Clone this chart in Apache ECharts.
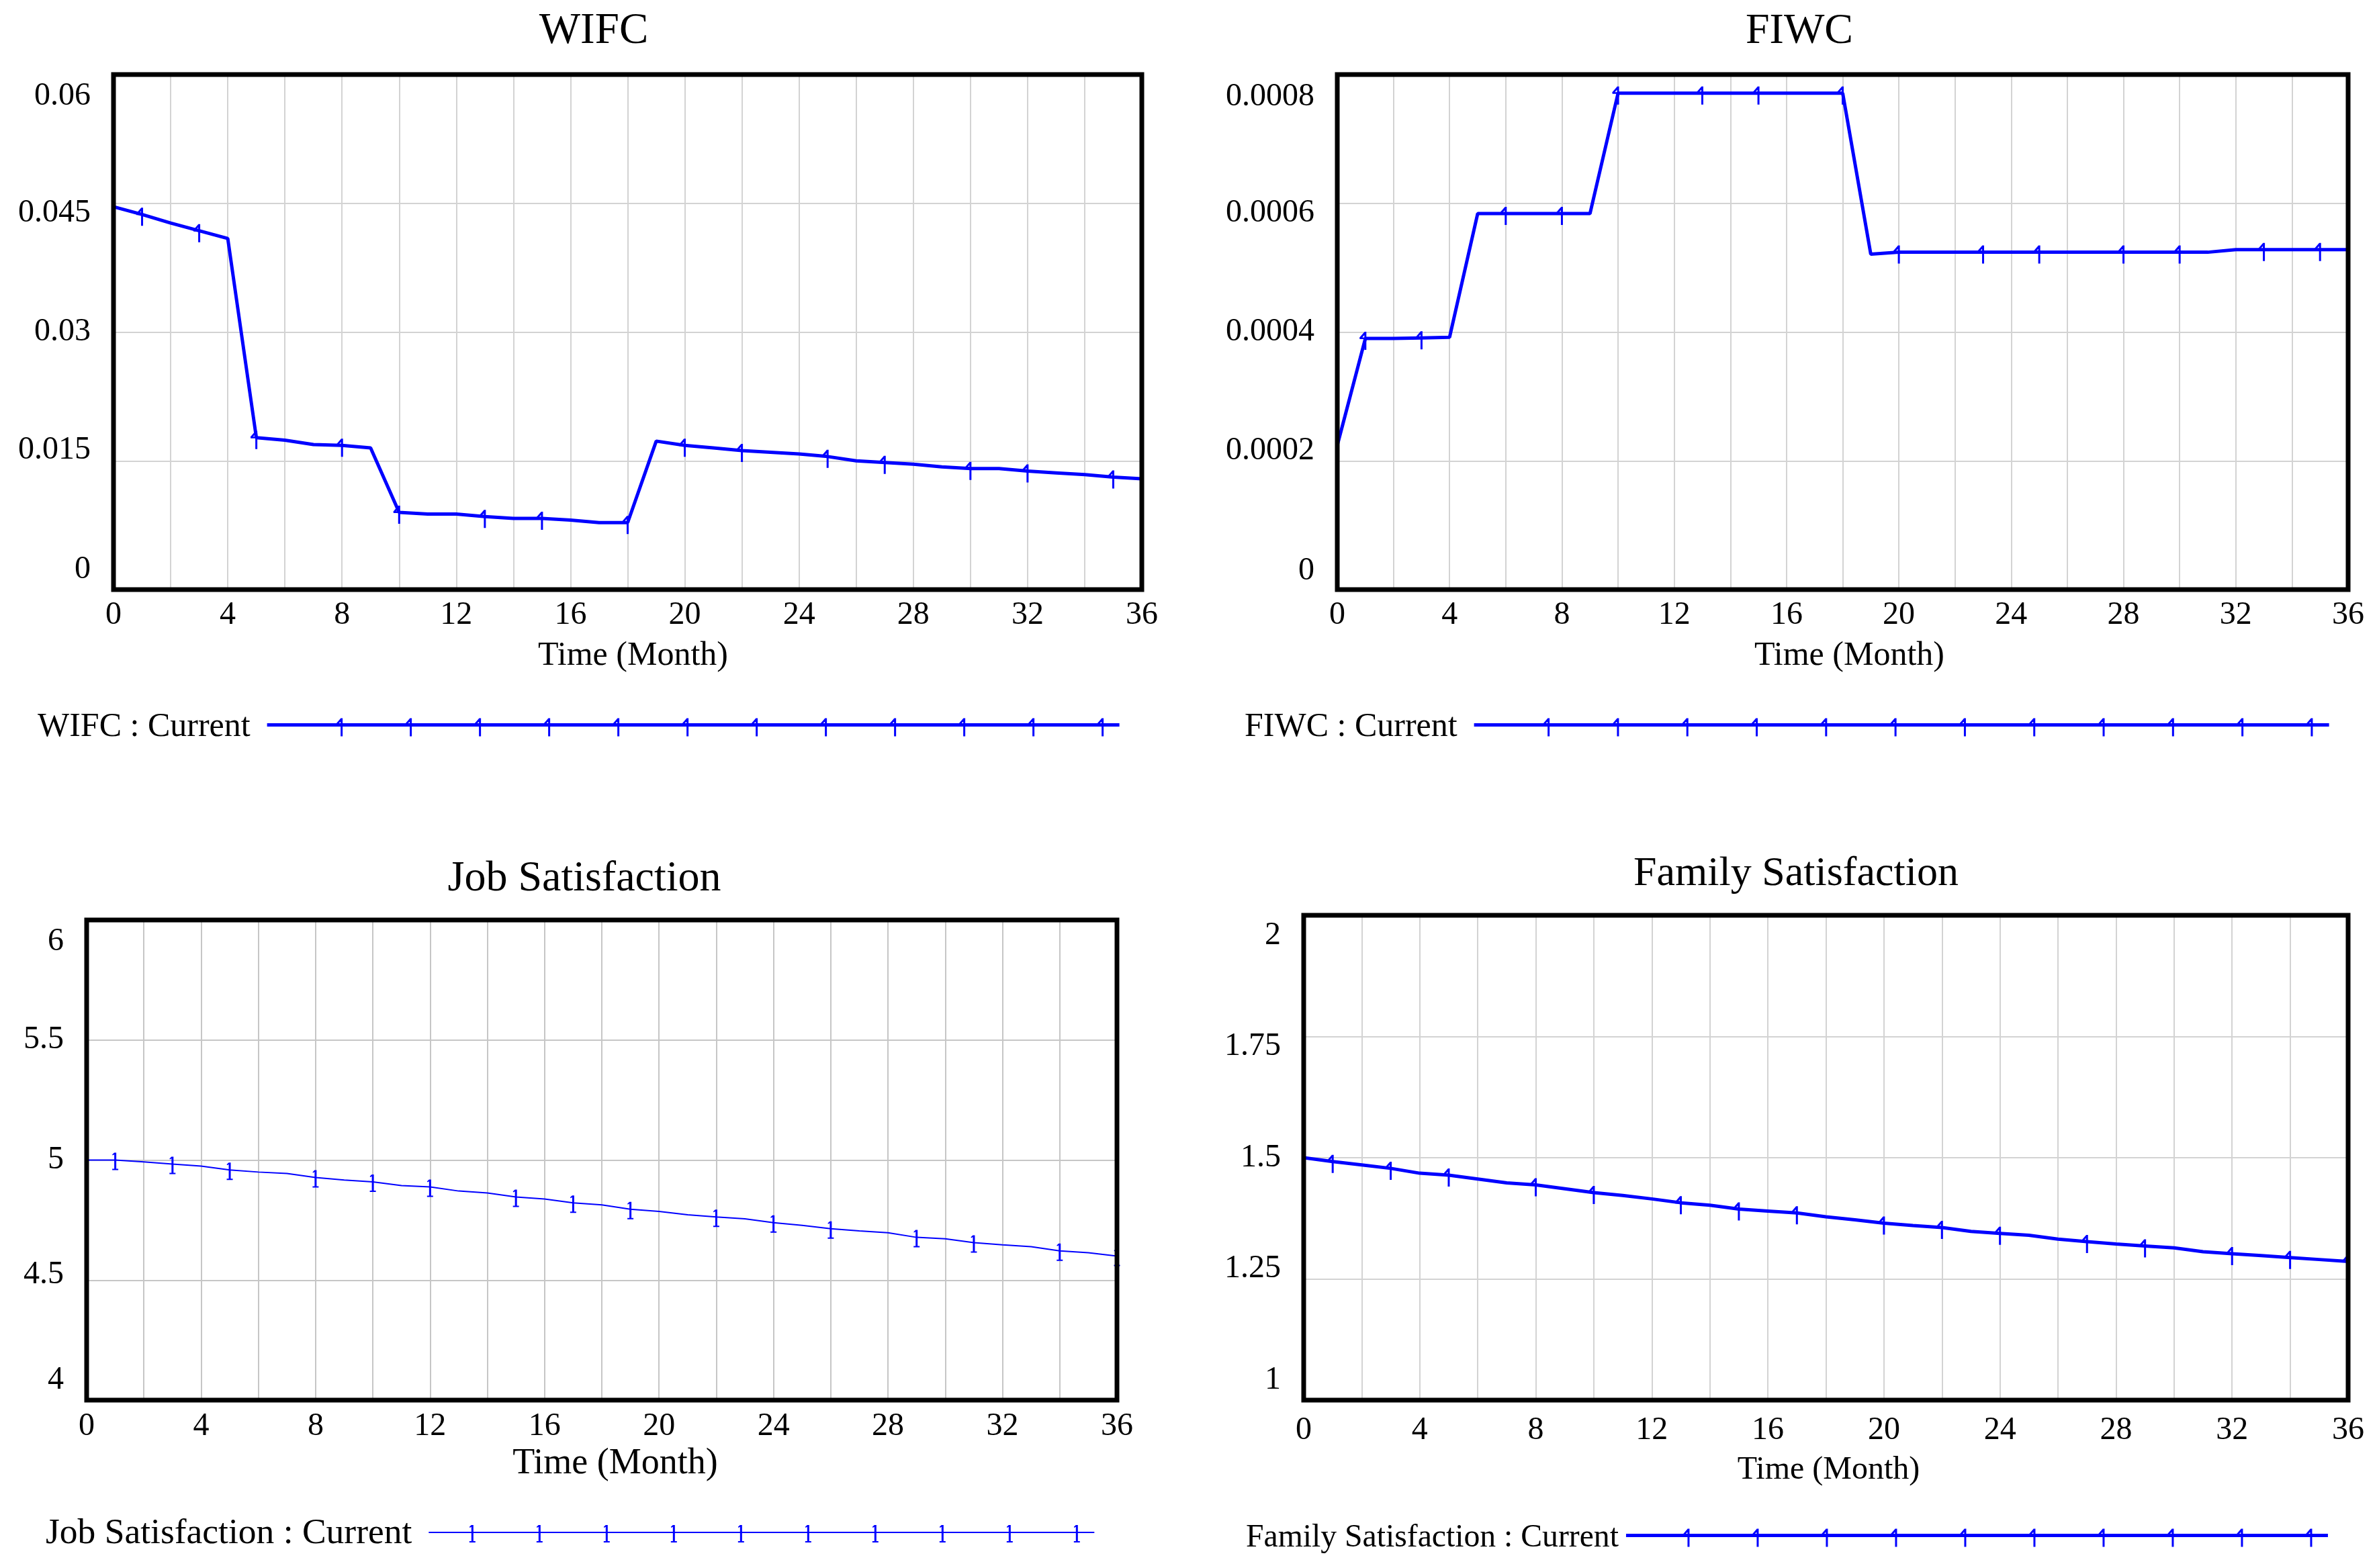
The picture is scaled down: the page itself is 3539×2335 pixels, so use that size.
<!DOCTYPE html>
<html>
<head>
<meta charset="utf-8">
<script src="https://cdn.jsdelivr.net/npm/echarts@6/dist/echarts.min.js"></script>
<style>
html,body{margin:0;padding:0;background:#fff;}
#c{width:3539px;height:2335px;}
</style>
</head>
<body>
<div id="c"></div>
<script>
// ---------------- DATA ----------------
const months = [0,1,2,3,4,5,6,7,8,9,10,11,12,13,14,15,16,17,18,19,20,21,22,23,24,25,26,27,28,29,30,31,32,33,34,35,36];

const wifcValues = [0.0446,0.0437,0.0427,0.0418,0.0409,0.0177,0.0174,0.0169,0.0168,0.0165,
  0.0090,0.0088,0.0088,0.0085,0.0083,0.0083,0.0081,0.0078,0.0078,0.0173,
  0.0168,0.0165,0.0162,0.0160,0.0158,0.0155,0.0150,0.0148,0.0146,0.0143,
  0.0141,0.0141,0.0138,0.0136,0.0134,0.0131,0.0129];

const fiwcValues = [0.000224,0.000390,0.000390,0.000391,0.000392,0.000584,0.000584,0.000584,0.000584,0.000584,
  0.000771,0.000771,0.000771,0.000771,0.000771,0.000771,0.000771,0.000771,0.000771,0.000521,
  0.000524,0.000524,0.000524,0.000524,0.000524,0.000524,0.000524,0.000524,0.000524,0.000524,
  0.000524,0.000524,0.000528,0.000528,0.000528,0.000528,0.000528];

const jobValues = [5.000,5.000,4.992,4.983,4.975,4.959,4.950,4.944,4.927,4.917,
  4.909,4.894,4.888,4.871,4.863,4.846,4.838,4.822,4.813,4.795,
  4.786,4.772,4.763,4.755,4.739,4.728,4.714,4.705,4.697,4.678,
  4.672,4.656,4.647,4.639,4.622,4.614,4.600];

const familyValues = [1.500,1.492,1.485,1.478,1.468,1.464,1.456,1.448,1.444,1.436,
  1.428,1.422,1.415,1.407,1.402,1.394,1.390,1.386,1.378,1.372,
  1.365,1.360,1.356,1.348,1.344,1.340,1.332,1.327,1.322,1.318,
  1.314,1.306,1.302,1.298,1.294,1.290,1.286];

// months at which the "1" series markers are drawn
const wifcMarkers = [1,3,5,8,10,13,15,18,20,22,25,27,30,32,35];
const fiwcMarkers = [1,3,6,8,10,13,15,18,20,23,25,28,30,33,35];
const jobMarkers = [1,3,5,8,10,12,15,17,19,22,24,26,29,31,34,36];
const familyMarkers = [1,3,5,8,10,13,15,17,20,22,24,27,29,32,34,36];

// tick labels
const wifcTicks = ['0','0.015','0.03','0.045','0.06'];
const fiwcTicks = ['0','0.0002','0.0004','0.0006','0.0008'];
const jobTicks = ['4','4.5','5','5.5','6'];
const familyTicks = ['1','1.25','1.5','1.75','2'];
const xTickLabels = ['0','4','8','12','16','20','24','28','32','36'];

const chartTitles = ['WIFC','FIWC','Job Satisfaction','Family Satisfaction'];
const seriesNames = ['WIFC : Current','FIWC : Current','Job Satisfaction : Current','Family Satisfaction : Current'];
const xAxisName = 'Time (Month)';

// ---------------- STYLE / LAYOUT ----------------
const FONT = 'Liberation Serif';
const BLUE = '#0000ff';

function flagMarker(cx, cy) {
  const t = cy - 10;
  return `M${cx-1.5} ${t} L${cx+1.5} ${t} L${cx+1.5} ${t+27} L${cx-1.5} ${t+27} Z ` +
         `M${cx-1.2} ${t} L${cx+1.2} ${t+1.8} L${cx-6.8} ${t+10.8} L${cx-9} ${t+9} Z ` +
         `M${cx-8.5} ${t+8.4} L${cx} ${t+8.4} L${cx} ${t+11} L${cx-8.5} ${t+11} Z`;
}
function oneMarker(cx, cy) {
  const t = cy - 11;
  return `M${cx-1.5} ${t} L${cx+1.5} ${t} L${cx+1.5} ${t+25} L${cx-1.5} ${t+25} Z ` +
         `M${cx-1.5} ${t} L${cx+0.5} ${t+1.5} L${cx-3.8} ${t+4} L${cx-4.5} ${t+2.8} Z ` +
         `M${cx-4.5} ${t+24} L${cx+4.5} ${t+24} L${cx+4.5} ${t+26} L${cx-4.5} ${t+26} Z`;
}
const symbolFlag = 'path://' + flagMarker(9, 10);
const symbolOne = 'path://' + oneMarker(4.5, 11);

function legendPath(kind, len, first, step, count, lw) {
  const cy = kind === 'flag' ? 10 : 11;
  let p = `M0 ${cy-lw/2} L${len} ${cy-lw/2} L${len} ${cy+lw/2} L0 ${cy+lw/2} Z `;
  for (let k = 0; k < count; k++) {
    const cx = first + step * k;
    p += (kind === 'flag' ? flagMarker(cx, cy) : oneMarker(cx, cy)) + ' ';
  }
  return 'path://' + p;
}

const panels = [
  { name: seriesNames[0], title: chartTitles[0], values: wifcValues, marks: wifcMarkers, ticks: wifcTicks,
    min: 0, max: 0.06, interval: 0.015,
    grid: {left: 169, top: 111, width: 1531, height: 767}, titleXY: [884, 47], titleSize: 65,
    shifts: [-30, -16, 0, 15, 32], xMargin: 14, nameGap: 74, nameDx: 8, nameSize: 50,
    legend: {left: 56, cy: 1084, len: 1269, first: 111, step: 103, count: 12, size: 50, pad: 20},
    kind: 'flag', lw: 5, gridColor: '#d3d3d3' },
  { name: seriesNames[1], title: chartTitles[1], values: fiwcValues, marks: fiwcMarkers, ticks: fiwcTicks,
    min: 0, max: 0.0008, interval: 0.0002,
    grid: {left: 1991, top: 111, width: 1505, height: 767}, titleXY: [2679, 47], titleSize: 64,
    shifts: [-28, -15, 0, 15, 33], xMargin: 14, nameGap: 74, nameDx: 10, nameSize: 50,
    legend: {left: 1853, cy: 1084, len: 1273, first: 111, step: 103.3, count: 12, size: 50, pad: 20},
    kind: 'flag', lw: 5, gridColor: '#d3d3d3' },
  { name: seriesNames[2], title: chartTitles[2], values: jobValues, marks: jobMarkers, ticks: jobTicks,
    min: 4, max: 6, interval: 0.5,
    grid: {left: 129, top: 1370, width: 1534, height: 715}, titleXY: [870, 1309], titleSize: 64,
    shifts: [-30, -8, 0, 0, 32], xMargin: 15, nameGap: 68, nameDx: 20, nameSize: 54,
    legend: {left: 68, cy: 2283, len: 991, first: 65, step: 100, count: 10, size: 53.5, pad: 20},
    kind: 'one', lw: 2, gridColor: '#c6c6c6' },
  { name: seriesNames[3], title: chartTitles[3], values: familyValues, marks: familyMarkers, ticks: familyTicks,
    min: 1, max: 2, interval: 0.25,
    grid: {left: 1941, top: 1363, width: 1555, height: 722}, titleXY: [2674, 1302], titleSize: 62,
    shifts: [-30, -15, 0, 15, 30], xMargin: 21, nameGap: 80, nameDx: 4, nameSize: 48,
    legend: {left: 1855, cy: 2292, len: 1045, first: 93, step: 103, count: 10, size: 47.7, pad: 6},
    kind: 'flag', lw: 5, gridColor: '#d3d3d3' }
];

const option = {
  animation: false,
  backgroundColor: '#ffffff',
  grid: [], xAxis: [], yAxis: [], series: [], legend: [], graphic: []
};

panels.forEach((p, i) => {
  option.grid.push(Object.assign({
    show: true, borderColor: '#000', borderWidth: 7, backgroundColor: 'transparent', z: 10
  }, p.grid));

  option.xAxis.push({
    type: 'value', gridIndex: i, min: 0, max: 36, interval: 2,
    axisLine: {show: false}, axisTick: {show: false},
    axisLabel: {
      margin: p.xMargin, fontFamily: FONT, fontSize: 48, color: '#000',
      showMinLabel: true, showMaxLabel: true, hideOverlap: false,
      formatter: v => (xTickLabels.indexOf(String(Math.round(v))) >= 0 && Math.abs(v - Math.round(v)) < 1e-6 ? String(Math.round(v)) : '')
    },
    splitLine: {show: true, showMinLine: false, showMaxLine: false, lineStyle: {color: p.gridColor, width: 2}},
    name: xAxisName, nameLocation: 'middle', nameGap: p.nameGap,
    nameTextStyle: {fontFamily: FONT, fontSize: p.nameSize, color: '#000', padding: [0, 0, 0, 2 * p.nameDx]}
  });

  const tickNums = p.ticks.map(Number);
  const rich = {};
  p.shifts.forEach((s, k) => {
    rich['s' + k] = {
      fontFamily: FONT, fontSize: 48, color: '#000',
      padding: s >= 0 ? [2 * s, 0, 0, 0] : [0, 0, -2 * s, 0]
    };
  });
  option.yAxis.push({
    type: 'value', gridIndex: i, min: p.min, max: p.max, interval: p.interval,
    axisLine: {show: false}, axisTick: {show: false},
    axisLabel: {
      margin: 34, fontFamily: FONT, fontSize: 48, color: '#000',
      showMinLabel: true, showMaxLabel: true,
      formatter: v => {
        let best = 0;
        tickNums.forEach((t, k) => { if (Math.abs(t - v) < Math.abs(tickNums[best] - v)) best = k; });
        return '{s' + best + '|' + p.ticks[best] + '}';
      },
      rich: rich
    },
    splitLine: {show: true, showMinLine: false, showMaxLine: false, lineStyle: {color: p.gridColor, width: 2}}
  });

  // the curve
  option.series.push({
    type: 'line', name: p.name, xAxisIndex: i, yAxisIndex: i,
    data: months.map((t, k) => [t, p.values[k]]),
    symbol: 'none', showSymbol: false,
    lineStyle: {color: BLUE, width: p.lw},
    itemStyle: {color: BLUE},
    emphasis: {disabled: true}, silent: true, z: 2
  });
  // the "1" markers, placed on the curve values at the marker months
  const sym = p.kind === 'flag' ? symbolFlag : symbolOne;
  option.series.push({
    type: 'scatter', name: p.name + ' markers', xAxisIndex: i, yAxisIndex: i,
    data: p.marks.map(t => [t, p.values[months.indexOf(t)]]),
    symbol: sym,
    symbolSize: p.kind === 'flag' ? [10.5, 27] : [9, 26],
    symbolOffset: p.kind === 'flag' ? [-3.75, 3.5] : [0, 2],
    symbolKeepAspect: false,
    itemStyle: {color: BLUE, opacity: 1, borderWidth: 0},
    emphasis: {disabled: true}, silent: true, z: 3
  });

  const L = p.legend;
  option.legend.push({
    data: [p.name], left: L.left, top: L.cy - 26, orient: 'horizontal', align: 'right',
    padding: 0, selectedMode: false,
    icon: legendPath(p.kind, L.len, L.first, L.step, L.count, p.lw),
    itemWidth: L.len, itemHeight: p.kind === 'flag' ? 27 : 26,
    itemStyle: {color: BLUE, borderWidth: 0},
    textStyle: {fontFamily: FONT, fontSize: L.size, color: '#000', padding: [0, L.pad, 7, 0]}
  });

  option.graphic.push({
    type: 'text', x: p.titleXY[0], y: p.titleXY[1], silent: true,
    style: {text: p.title, fontFamily: FONT, fontSize: p.titleSize, fill: '#000',
      textAlign: 'center', textVerticalAlign: 'middle', align: 'center', verticalAlign: 'middle'}
  });
});

const chart = echarts.init(document.getElementById('c'), null, {renderer: 'canvas'});
chart.setOption(option);
</script>
</body>
</html>
